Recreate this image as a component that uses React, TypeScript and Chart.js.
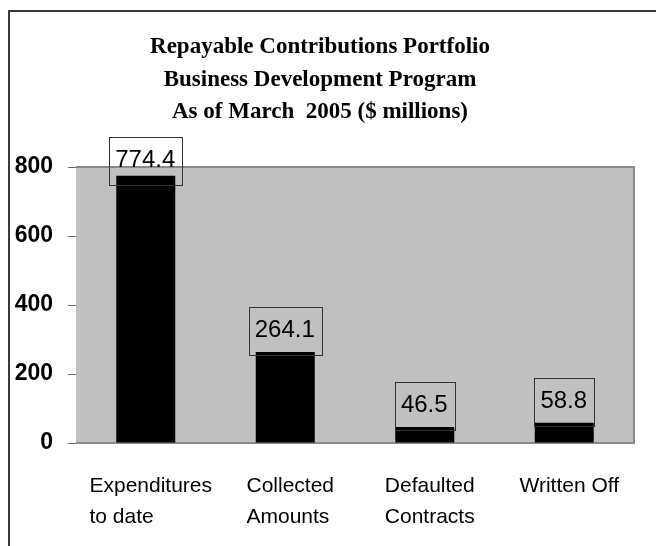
import React, { useEffect, useRef } from "react";
import { Chart, registerables } from "chart.js";

Chart.register(...registerables);

const titleLines = [
  "Repayable Contributions Portfolio",
  "Business Development Program",
  "As of March  2005 ($ millions)",
];
const categories: string[][] = [
  ["Expenditures", "to date"],
  ["Collected", "Amounts"],
  ["Defaulted", "Contracts"],
  ["Written Off"],
];
const values = [774.4, 264.1, 46.5, 58.8];
const valueLabels = ["774.4", "264.1", "46.5", "58.8"];
const yTicks = [0, 200, 400, 600, 800];

const SANS = "'Liberation Sans', Arial, sans-serif";

const framePlugin = {
  id: "frame",
  beforeDraw(chart: any) {
    const { ctx, chartArea: a } = chart;
    ctx.save();
    ctx.fillStyle = "#ffffff";
    ctx.fillRect(0, 0, chart.width, chart.height);
    // outer chart border (top and left visible)
    ctx.strokeStyle = "#3a3a3a";
    ctx.lineWidth = 2;
    ctx.beginPath();
    ctx.moveTo(9, chart.height + 5);
    ctx.lineTo(9, 11);
    ctx.lineTo(chart.width + 5, 11);
    ctx.stroke();
    // plot area
    ctx.fillStyle = "#c0c0c0";
    ctx.fillRect(a.left, a.top, a.right - a.left, a.bottom - a.top);
    ctx.strokeStyle = "#8a8a8a";
    ctx.lineWidth = 2;
    ctx.beginPath();
    ctx.moveTo(a.left, a.top);
    ctx.lineTo(a.right, a.top);
    ctx.lineTo(a.right, a.bottom);
    ctx.lineTo(a.left, a.bottom);
    ctx.stroke();
    // title
    ctx.fillStyle = "#000";
    ctx.font = "bold 23px 'Liberation Serif', 'Times New Roman', serif";
    ctx.textAlign = "center";
    ctx.textBaseline = "alphabetic";
    const baselines = [53, 86, 118];
    titleLines.forEach((t, i) => ctx.fillText(t, 320, baselines[i]));
    ctx.restore();
  },
};

const labelPlugin = {
  id: "valueBoxes",
  afterDatasetsDraw(chart: any) {
    const { ctx, chartArea: a } = chart;
    const meta = chart.getDatasetMeta(0);
    ctx.save();
    ctx.font = "24px " + SANS;
    ctx.textAlign = "left";
    ctx.textBaseline = "alphabetic";
    meta.data.forEach((bar: any, i: number) => {
      const text = valueLabels[i];
      const tw = ctx.measureText(text).width;
      const bw = tw + 13;
      const bh = 48;
      const bottom = bar.y + 3;
      let top = bottom - bh;
      if (top < a.top - 30) {
        top = a.top - 30;
      }
      const left = bar.x - bw / 2;
      ctx.strokeStyle = "#333";
      ctx.lineWidth = 1;
      ctx.strokeRect(Math.round(left) + 0.5, Math.round(top) + 0.5, Math.round(bw), bh);
      ctx.fillStyle = "#000";
      ctx.fillText(text, left + 6, top + 30);
    });
    ctx.restore();
  },
};

const xLabelPlugin = {
  id: "xLabels",
  afterDraw(chart: any) {
    const { ctx, chartArea: a } = chart;
    const xs = chart.scales.x;
    ctx.save();
    ctx.font = "21px " + SANS;
    ctx.fillStyle = "#000";
    ctx.textAlign = "left";
    ctx.textBaseline = "alphabetic";
    categories.forEach((lines, i) => {
      const cx = xs.getPixelForValue(i);
      const w = Math.max(...lines.map((l) => ctx.measureText(l).width));
      const left = cx - w / 2 + 5;
      lines.forEach((l, j) => {
        ctx.fillText(l, left, a.bottom + 49 + j * 31);
      });
    });
    ctx.restore();
  },
};

export default function App() {
  const ref = useRef<HTMLCanvasElement | null>(null);
  useEffect(() => {
    if (!ref.current) return;
    const chart = new Chart(ref.current, {
      type: "bar",
      data: {
        labels: categories,
        datasets: [
          {
            data: values,
            backgroundColor: "#000000",
            borderWidth: 0,
            categoryPercentage: 1,
            barPercentage: 0.423,
          },
        ],
      },
      options: {
        responsive: false,
        animation: false,
        layout: { padding: { left: 0, top: 167, right: 22, bottom: 0 } },
        plugins: {
          legend: { display: false },
          title: { display: false },
          tooltip: { enabled: false },
        },
        scales: {
          x: {
            afterFit: (s: any) => {
              s.height = 103;
            },
            grid: { display: false, drawTicks: false },
            border: { display: false },
            ticks: { display: false },
          },
          y: {
            min: 0,
            max: 800,
            afterFit: (s: any) => {
              s.width = 76;
            },
            afterBuildTicks: (s: any) => {
              s.ticks = yTicks.map((v) => ({ value: v }));
            },
            grid: {
              drawOnChartArea: false,
              drawTicks: true,
              tickLength: 8,
              color: "#6a6a6a",
              lineWidth: 1,
            },
            border: { display: false },
            ticks: {
              color: "#000",
              padding: 15,
              font: { family: SANS, size: 23, weight: "bold" },
            },
          },
        },
      },
      plugins: [framePlugin, labelPlugin, xLabelPlugin],
    });
    return () => chart.destroy();
  }, []);
  return (
    <div style={{ position: "absolute", left: 0, top: 0, width: 656, height: 546 }}>
      <canvas ref={ref} width={656} height={546} />
    </div>
  );
}
